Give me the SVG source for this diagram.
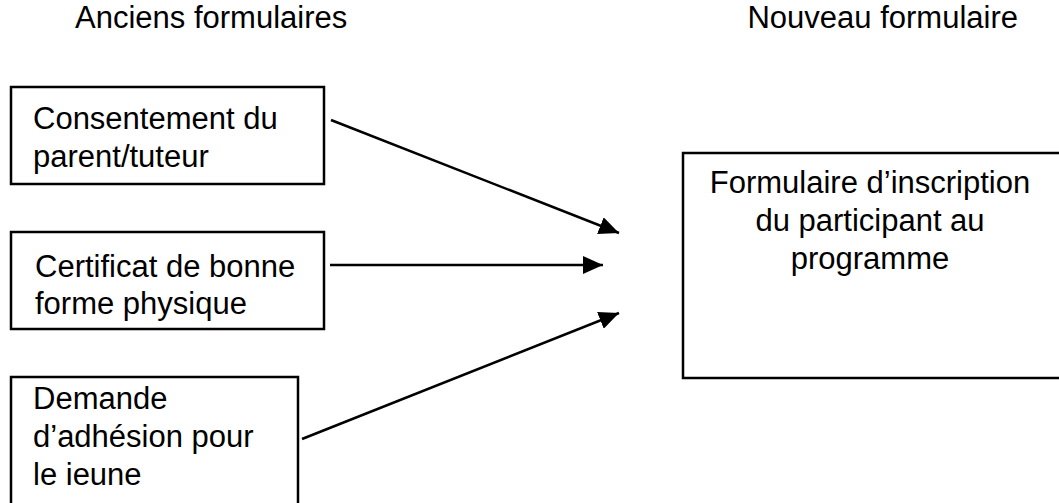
<svg xmlns="http://www.w3.org/2000/svg" width="1059" height="503" viewBox="0 0 1059 503">
<style>
.box{fill:#fff;stroke:#000;stroke-width:2.5}
.t{font-family:"Liberation Sans",Arial,sans-serif;font-size:31px;fill:#000}
.c{stroke:#000;stroke-width:2.5;fill:none}
</style>
<defs>
<marker id="a" markerUnits="userSpaceOnUse" markerWidth="20" markerHeight="18" refX="20" refY="9" orient="auto" viewBox="0 0 20 18">
<path d="M0,0 L20,9 L0,18 Z" fill="#000"/>
</marker>
</defs>
<rect width="1059" height="503" fill="#fff"/>
<text class="t" x="75" y="28">Anciens formulaires</text>
<text class="t" x="1018" y="28" text-anchor="end">Nouveau formulaire</text>
<g id="n1">
<rect class="box" x="11" y="87" width="313" height="97"/>
<text class="t" x="33" y="129">Consentement du</text>
<text class="t" x="33" y="167">parent/tuteur</text>
</g>
<g id="n2">
<rect class="box" x="11" y="232" width="313" height="97"/>
<text class="t" x="35" y="277">Certificat de bonne</text>
<text class="t" x="35" y="314">forme physique</text>
</g>
<g id="n3">
<rect class="box" x="11" y="377" width="287" height="140"/>
<text class="t" x="33" y="409">Demande</text>
<text class="t" x="33" y="447">d’adhésion pour</text>
<text class="t" x="33" y="485">le ieune</text>
</g>
<g id="n4">
<rect class="box" x="683" y="153" width="400" height="225"/>
<text class="t" x="870" y="193" text-anchor="middle">Formulaire d’inscription</text>
<text class="t" x="870" y="231" text-anchor="middle">du participant au</text>
<text class="t" x="870" y="269" text-anchor="middle">programme</text>
</g>
<g id="connectors">
<line class="c" x1="331" y1="120" x2="619" y2="233" marker-end="url(#a)"/>
<line class="c" x1="330" y1="265" x2="603" y2="265" marker-end="url(#a)"/>
<line class="c" x1="302" y1="439" x2="619" y2="313" marker-end="url(#a)"/>
</g>
</svg>
